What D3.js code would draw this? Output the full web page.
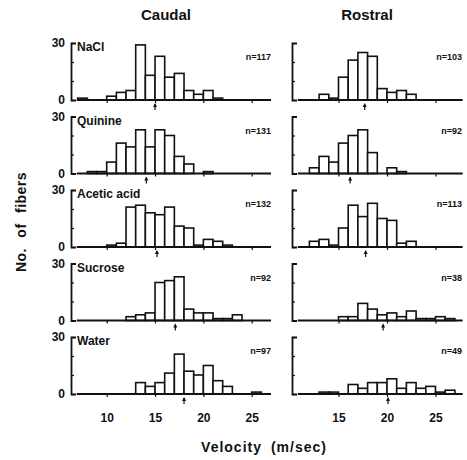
<!DOCTYPE html>
<html>
<head>
<meta charset="utf-8">
<script src="https://cdn.jsdelivr.net/npm/d3@7"></script>
<style>
  body { margin: 0; background: #fff; }
  svg text { font-family: "Liberation Sans", Arial, sans-serif; font-weight: bold; fill: #111; }
</style>
</head>
<body>
<div id="chart"></div>
<script>
// Velocity bins (lower edge of each 1 m/sec bin).
var velocityBins = [7, 8, 9, 10, 11, 12, 13, 14, 15, 16, 17, 18, 19, 20, 21, 22, 23, 24, 25, 26];

var stimuli = ["NaCl", "Quinine", "Acetic acid", "Sucrose", "Water"];

// No. of fibers per bin, caudal side.
var caudalNaCl =    [1, 0, 0, 2, 4, 5, 29, 13, 23, 12, 14, 5, 3, 5, 1, 0, 0, 0, 0, 0];
var caudalQuinine = [0, 1, 1, 6, 16, 14, 23, 14, 23, 20, 9, 5, 0, 1, 0, 0, 0, 0, 0, 0];
var caudalAcetic =  [0, 0, 0, 1, 2, 21, 22, 18, 17, 21, 11, 10, 1, 4, 3, 1, 0, 0, 0, 0];
var caudalSucrose = [0, 0, 0, 0, 0, 2, 3, 4, 20, 21, 23, 6, 4, 4, 1, 1, 3, 0, 0, 0];
var caudalWater =   [0, 0, 0, 0, 0, 0, 6, 4, 6, 11, 21, 12, 10, 15, 7, 4, 0, 0, 1, 0];

// No. of fibers per bin, rostral side.
var rostralNaCl =    [0, 0, 0, 0, 0, 0, 3, 1, 12, 21, 25, 23, 6, 4, 5, 3, 0, 0, 0, 0];
var rostralQuinine = [0, 0, 0, 0, 0, 3, 9, 6, 16, 20, 23, 11, 0, 3, 1, 0, 0, 0, 0, 0];
var rostralAcetic =  [0, 0, 0, 0, 0, 3, 4, 1, 10, 22, 16, 23, 15, 14, 2, 3, 0, 0, 0, 0];
var rostralSucrose = [0, 0, 0, 0, 0, 0, 0, 0, 2, 2, 9, 6, 3, 4, 2, 5, 1, 1, 2, 1];
var rostralWater =   [0, 0, 0, 0, 0, 0, 1, 1, 0, 5, 3, 6, 6, 8, 3, 6, 3, 4, 1, 2];

// Mean velocity (arrows) and sample sizes.
var caudalMean = [15.0, 14.1, 15.2, 17.1, 18.0];
var rostralMean = [17.7, 16.2, 17.8, 19.6, 20.1];
var caudalN = [117, 131, 132, 92, 97];
var rostralN = [103, 92, 113, 38, 49];

var xTicksCaudal = [10, 15, 20, 25];
var xTicksRostral = [15, 20, 25];
var yTicks = [0, 10, 20, 30];

(function () {
  "use strict";

  var width = 467,
    height = 460,
    rowTop = 43,
    rowStep = 73.5,
    panelHeight = 57,
    binWidth = 1;

  var caudal = [caudalNaCl, caudalQuinine, caudalAcetic, caudalSucrose, caudalWater],
    rostral = [rostralNaCl, rostralQuinine, rostralAcetic, rostralSucrose, rostralWater];

  var columns = [
    {
      name: "Caudal", series: caudal, mean: caudalMean, n: caudalN, ticks: xTicksCaudal,
      x: d3.scaleLinear().domain([10, 25]).range([106.7, 251.7]),
      axisX: 71, lineFrom: 6.9, lineTo: 27, nRight: 271, labels: true
    },
    {
      name: "Rostral", series: rostral, mean: rostralMean, n: rostralN, ticks: xTicksRostral,
      x: d3.scaleLinear().domain([15, 25]).range([338.5, 435.5]),
      axisX: 292, lineFrom: 10.8, lineTo: 27.8, nRight: 462, labels: false
    }
  ];

  var svg = d3.select("#chart").append("svg")
    .attr("width", width)
    .attr("height", height);

  columns.forEach(function (col, c) {
    var x = col.x;

    // Column header.
    svg.append("text")
      .attr("x", c === 0 ? 166 : 367)
      .attr("y", 20)
      .attr("text-anchor", "middle")
      .style("font-size", "15px")
      .text(col.name);

    stimuli.forEach(function (stim, r) {
      var top = rowTop + r * rowStep,
        base = top + panelHeight,
        y = d3.scaleLinear().domain([0, 30]).range([base, top]),
        g = svg.append("g"),
        data = col.series[r].map(function (v, i) { return { v: velocityBins[i], count: v }; })
          .filter(function (d) { return d.count > 0; });

      // Y axis bracket.
      var yAxis = d3.axisLeft(y)
        .tickValues(yTicks)
        .tickSizeInner(-3)
        .tickSizeOuter(-5)
        .tickPadding(6)
        .tickFormat(function (d) { return (col.labels && (d === 0 || d === 30)) ? d : ""; });

      var ya = g.append("g")
        .attr("transform", "translate(" + col.axisX + ",0)")
        .call(yAxis);
      ya.select(".domain").attr("stroke", "#111").attr("stroke-width", 1.8);
      ya.selectAll(".tick line").attr("stroke", "#111").attr("stroke-width", 1.2);
      ya.selectAll(".tick text")
        .attr("fill", "#111")
        .style("font-size", "12px")
        .style("font-family", "'Liberation Sans', Arial, sans-serif")
        .style("font-weight", "bold");

      // Bars.
      g.selectAll("rect.bar")
        .data(data)
        .enter().append("rect")
        .attr("class", "bar")
        .attr("x", function (d) { return x(d.v); })
        .attr("width", function (d) { return x(d.v + binWidth) - x(d.v); })
        .attr("y", function (d) { return y(d.count); })
        .attr("height", function (d) { return y(0) - y(d.count); })
        .attr("fill", "#fff")
        .attr("stroke", "#111")
        .attr("stroke-width", 1.6);

      // Baseline with small ticks.
      g.append("line")
        .attr("x1", x(col.lineFrom)).attr("x2", x(col.lineTo))
        .attr("y1", base).attr("y2", base)
        .attr("stroke", "#111")
        .attr("stroke-width", 2);

      var xAxis = d3.axisBottom(x)
        .tickValues(col.ticks)
        .tickSize(3)
        .tickPadding(16)
        .tickFormat(r === stimuli.length - 1 ? d3.format("d") : "");

      var xa = g.append("g")
        .attr("transform", "translate(0," + base + ")")
        .call(xAxis);
      xa.select(".domain").remove();
      xa.selectAll(".tick line").attr("stroke", "#111").attr("stroke-width", 1.2);
      xa.selectAll(".tick text")
        .attr("fill", "#111")
        .style("font-size", "12px")
        .style("font-family", "'Liberation Sans', Arial, sans-serif")
        .style("font-weight", "bold");

      // Mean arrow under the baseline.
      var mx = x(col.mean[r]);
      g.append("line")
        .attr("x1", mx).attr("x2", mx)
        .attr("y1", base + 4).attr("y2", base + 10)
        .attr("stroke", "#111")
        .attr("stroke-width", 1.2);
      g.append("path")
        .attr("d", "M" + (mx - 2) + "," + (base + 7) + "L" + mx + "," + (base + 3) + "L" + (mx + 2) + "," + (base + 7) + "Z")
        .attr("fill", "#111");

      // Stimulus name (left column only).
      if (c === 0) {
        g.append("text")
          .attr("x", 77)
          .attr("y", top + 8)
          .style("font-size", "12px")
          .text(stim);
      }

      // Sample size.
      g.append("text")
        .attr("x", col.nRight)
        .attr("y", top + 17)
        .attr("text-anchor", "end")
        .style("font-size", "9px")
        .text("n=" + col.n[r]);
    });
  });

  // Axis titles.
  svg.append("text")
    .attr("transform", "translate(26,222) rotate(-90)")
    .attr("text-anchor", "middle")
    .style("font-size", "14px")
    .style("word-spacing", "6px")
    .style("letter-spacing", "0.5px")
    .text("No. of fibers");

  svg.append("text")
    .attr("x", 264)
    .attr("y", 452)
    .attr("text-anchor", "middle")
    .style("font-size", "14px")
    .style("letter-spacing", "1px")
    .style("word-spacing", "4px")
    .text("Velocity (m/sec)");
})();
</script>
</body>
</html>
